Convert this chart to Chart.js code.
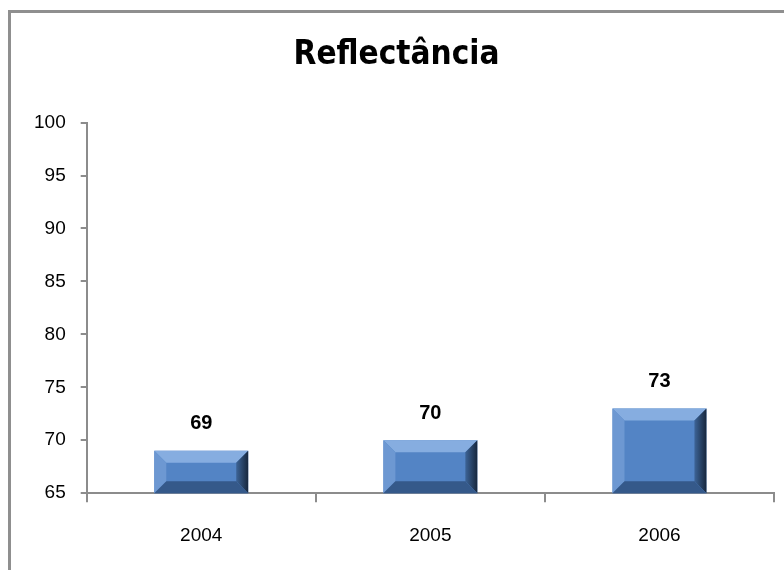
<!DOCTYPE html>
<html>
<head>
<meta charset="utf-8">
<script src="https://cdn.jsdelivr.net/npm/chart.js@4.4.1/dist/chart.umd.min.js"></script>
<style>
  body { margin: 0; background: #fff; overflow: hidden; }
  #moldura { position: absolute; left: 8px; top: 10px; width: 900px; height: 700px;
             border-left: 3px solid #8f8f8f; border-top: 3px solid #8f8f8f; }
  #caixa { position: absolute; left: 0; top: 0; width: 800px; height: 570px; }
</style>
</head>
<body>
<div id="moldura"></div>
<div id="caixa"><canvas id="grafico" width="800" height="570"></canvas></div>
<script>
// dados do grafico
var anos = ["2004", "2005", "2006"];
var reflectancia = [69, 70, 73];
var marcasY = [65, 70, 75, 80, 85, 90, 95, 100];

var fonteTitulo = "'Liberation Sans Narrow', 'DejaVu Sans Condensed', 'Liberation Sans', sans-serif";
var fonteEixo = "'Liberation Sans', Arial, sans-serif";

// efeito de bisel nas barras (desenhado a partir dos elementos do Chart.js)
var bisel = {
  id: 'bisel',
  afterDatasetsDraw: function(chart){
    var ctx = chart.ctx;
    var fundo = chart.chartArea.bottom;
    chart.getDatasetMeta(0).data.forEach(function(barra){
      var p = barra.getProps(['x', 'y', 'base', 'width'], true);
      var esq = p.x - p.width / 2, dir = p.x + p.width / 2;
      var topo = p.y, baixo = Math.min(p.base, fundo);
      var b = Math.min(12, (baixo - topo) / 2);
      ctx.save();
      // topo
      ctx.fillStyle = '#86ade0';
      ctx.beginPath();
      ctx.moveTo(esq, topo); ctx.lineTo(dir, topo);
      ctx.lineTo(dir - b, topo + b); ctx.lineTo(esq + b, topo + b);
      ctx.closePath(); ctx.fill();
      // esquerda
      ctx.fillStyle = '#6d98d2';
      ctx.beginPath();
      ctx.moveTo(esq, topo); ctx.lineTo(esq + b, topo + b);
      ctx.lineTo(esq + b, baixo - b); ctx.lineTo(esq, baixo);
      ctx.closePath(); ctx.fill();
      // direita
      var g = ctx.createLinearGradient(dir - b, 0, dir, 0);
      g.addColorStop(0, '#3d6497');
      g.addColorStop(1, '#17273d');
      ctx.fillStyle = g;
      ctx.beginPath();
      ctx.moveTo(dir, topo); ctx.lineTo(dir, baixo);
      ctx.lineTo(dir - b, baixo - b); ctx.lineTo(dir - b, topo + b);
      ctx.closePath(); ctx.fill();
      // baixo
      ctx.fillStyle = '#35598a';
      ctx.beginPath();
      ctx.moveTo(esq, baixo); ctx.lineTo(dir, baixo);
      ctx.lineTo(dir - b, baixo - b); ctx.lineTo(esq + b, baixo - b);
      ctx.closePath(); ctx.fill();
      ctx.restore();
    });
  }
};

// rotulos com o valor acima de cada barra
var rotulos = {
  id: 'rotulos',
  afterDatasetsDraw: function(chart){
    var ctx = chart.ctx;
    var ds = chart.data.datasets[0];
    ctx.save();
    ctx.font = 'bold 20px ' + fonteEixo;
    ctx.fillStyle = '#000';
    ctx.textAlign = 'center';
    ctx.textBaseline = 'middle';
    chart.getDatasetMeta(0).data.forEach(function(barra, i){
      ctx.fillText(ds.data[i], barra.x, barra.y - 27);
    });
    ctx.restore();
  }
};

var ctx = document.getElementById('grafico').getContext('2d');
var grafico = new Chart(ctx, {
  type: 'bar',
  data: {
    labels: anos,
    datasets: [{
      label: 'Reflectância',
      data: reflectancia,
      backgroundColor: '#5384c5',
      borderWidth: 0,
      barPercentage: 0.41,
      categoryPercentage: 1
    }]
  },
  options: {
    responsive: false,
    animation: false,
    layout: { padding: { left: 19, right: 26, top: 0, bottom: 1 } },
    plugins: {
      legend: { display: false },
      tooltip: { enabled: false },
      title: {
        display: true,
        text: 'Reflectância',
        color: '#000',
        font: { family: fonteTitulo, size: 33, weight: 'bold' },
        padding: { top: 36, bottom: 47 }
      }
    },
    scales: {
      x: {
        grid: { display: true, drawOnChartArea: false, drawTicks: true, tickLength: 9, color: '#8c8c8c', lineWidth: 2, offset: true },
        border: { display: true, color: '#8c8c8c', width: 2 },
        ticks: { color: '#000', font: { family: fonteEixo, size: 19 }, padding: 22 }
      },
      y: {
        min: 65,
        max: 100,
        afterBuildTicks: function(eixo){
          eixo.ticks = marcasY.map(function(v){ return { value: v }; });
        },
        grid: { display: true, drawOnChartArea: false, drawTicks: true, tickLength: 6, color: '#8c8c8c', lineWidth: 2 },
        border: { display: true, color: '#8c8c8c', width: 2 },
        ticks: { color: '#000', font: { family: fonteEixo, size: 19 }, padding: 15 }
      }
    }
  },
  plugins: [bisel, rotulos]
});
</script>
</body>
</html>
